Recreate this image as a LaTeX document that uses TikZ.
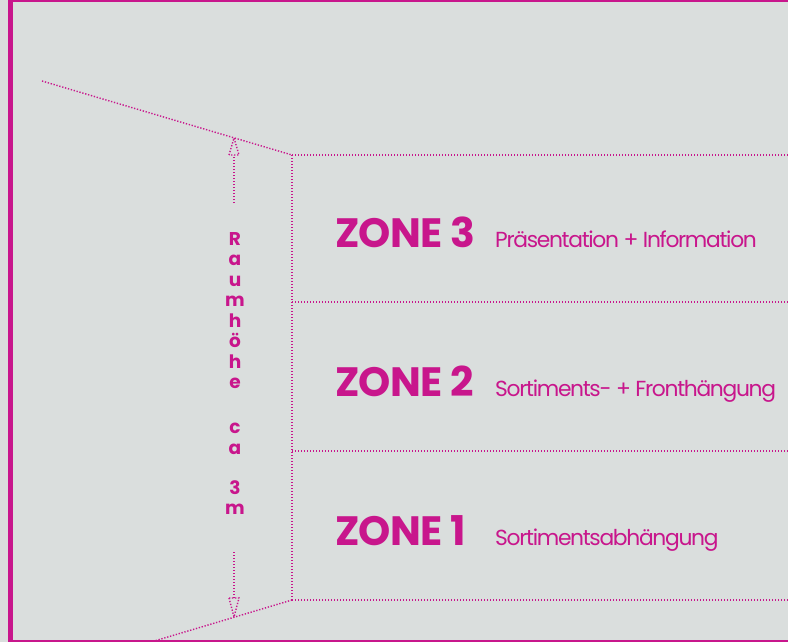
\documentclass[tikz,border=0pt]{standalone}
\usepackage{fontspec}
\setmainfont{Poppins}
\definecolor{mag}{RGB}{200,22,140}
\definecolor{bg}{RGB}{218,222,221}
\tikzset{
  dotline/.style={draw=mag, line width=1.4pt, dash pattern=on 1.3pt off 1.7pt},
  border/.style={draw=mag},
  zonetitle/.style={anchor=base west, text=mag, inner sep=0pt, font=\fontsize{41}{41}\selectfont\bfseries\addfontfeatures{LetterSpace=-2}},
  zonesub/.style={anchor=base west, text=mag, inner sep=0pt, font=\fontsize{21.8}{21.8}\selectfont\addfontfeatures{LetterSpace=-6}},
  vlabel/.style={text=mag, inner sep=0pt, align=center, font=\fontsize{18.5}{20.5}\selectfont\bfseries},
}
\begin{document}
\begin{tikzpicture}[x=1pt,y=-1pt]
\useasboundingbox (0,0) rectangle (788,642);
\clip (0,0) rectangle (788,642);
\fill[bg] (0,0) rectangle (788,642);
% frame
\draw[border, line width=5pt] (10.5,0) -- (10.5,642);
\draw[border, line width=2.5pt] (8,1.2) -- (788,1.2);
\draw[border, line width=1.5pt] (8,641.2) -- (788,641.2);
% coordinates
\coordinate (slTop) at (42,81);
\coordinate (c3) at (292,155);
\coordinate (c2) at (292,302);
\coordinate (c1) at (292,451);
\coordinate (c0) at (292,600);
\coordinate (r3) at (788,155);
\coordinate (r2) at (788,302);
\coordinate (r1) at (788,451);
\coordinate (r0) at (788,600);
\coordinate (slBot) at (151,642);
% perspective lines
\draw[dotline] (slTop) -- (c3);
\draw[dotline] (c3) -- (c0);
\draw[dotline] (c0) -- (slBot);
\draw[dotline] (c3) -- (r3);
\draw[dotline] (c2) -- (r2);
\draw[dotline] (c1) -- (r1);
\draw[dotline] (c0) -- (r0);
% dimension arrows
\coordinate (aTop) at (234,138);
\coordinate (aTopBase) at (234,155);
\coordinate (aTopEnd) at (234,203);
\coordinate (aBot) at (234,617);
\coordinate (aBotBase) at (234,598);
\coordinate (aBotEnd) at (234,552);
\draw[dotline] (aTopEnd) -- (aTopBase);
\draw[dotline] ([xshift=-5pt]aTopBase) -- (aTop) -- ([xshift=5pt]aTopBase) -- cycle;
\draw[dotline] (aBotEnd) -- (aBotBase);
\draw[dotline] ([xshift=-5pt]aBotBase) -- (aBot) -- ([xshift=5pt]aBotBase) -- cycle;
% vertical label
\node[vlabel, anchor=north] (hlabel) at (235,232) {R\\a\\u\\m\\h\\ö\\h\\e\\[24.5pt]c\\a\\[19.5pt]3\\m};
% zones
\node[zonetitle] (z3) at (335,247) {ZONE 3};
\node[zonesub] (s3) at (495,247) {Präsentation + Information};
\node[zonetitle] (z2) at (335,396) {ZONE 2};
\node[zonesub] (s2) at (495,396) {Sortiments- + Fronthängung};
\node[zonetitle] (z1) at (335,545) {ZONE 1};
\node[zonesub] (s1) at (495,545) {Sortimentsabhängung};
\end{tikzpicture}
\end{document}
